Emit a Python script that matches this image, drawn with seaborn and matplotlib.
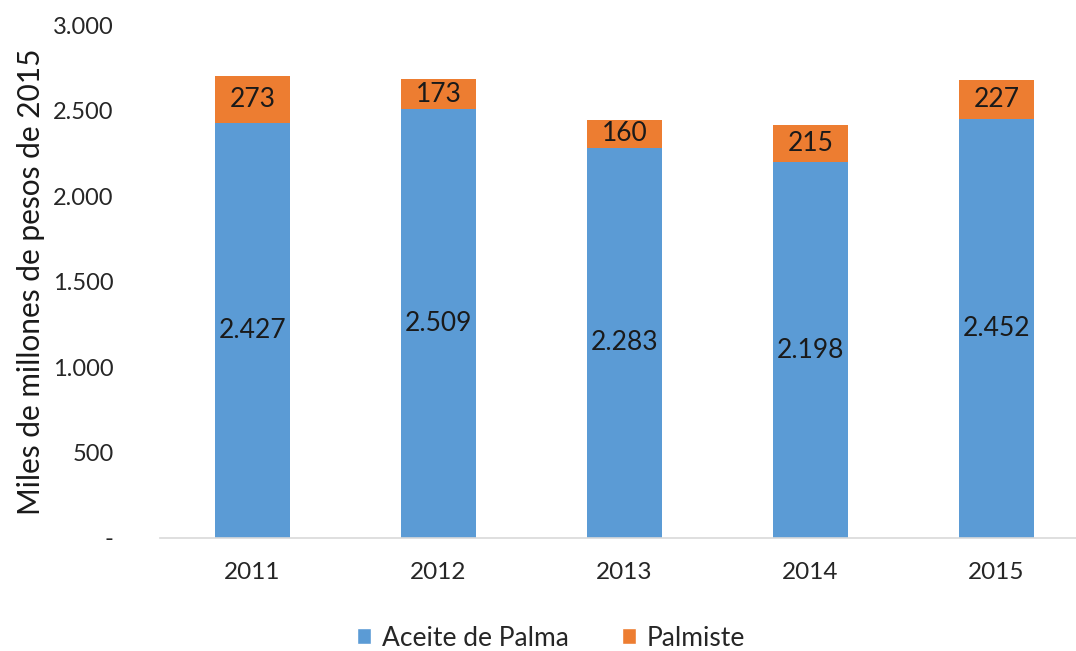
"""Valor de la producción: aceite de palma y palmiste, 2011-2015."""

import matplotlib
matplotlib.use("Agg")
import matplotlib.pyplot as plt
import pandas as pd
import seaborn as sns
from matplotlib.patches import Patch
from matplotlib.ticker import FuncFormatter

YEARS = ["2011", "2012", "2013", "2014", "2015"]
ACEITE = [2427, 2509, 2283, 2198, 2452]
PALMISTE = [273, 173, 160, 215, 227]

BLUE = "#5B9BD5"
ORANGE = "#ED7D31"
TEXT = "#1a1a1a"


def miles(v, _pos=None):
    if v == 0:
        return "-"
    return f"{int(v):,}".replace(",", ".")


sns.set_theme(style="white")
plt.rcParams["font.family"] = ["Lato", "DejaVu Sans"]

df = pd.DataFrame({"year": YEARS, "aceite": ACEITE, "palmiste": PALMISTE})
df["total"] = df["aceite"] + df["palmiste"]

fig = plt.figure(figsize=(10.76, 6.51), dpi=100)
ax = fig.add_axes([159.5 / 1076, 1 - 538 / 651, (1076 - 159.5) / 1076, (538 - 25) / 651])

# orange total first, blue aceite drawn over it -> stacked look
sns.barplot(data=df, x="year", y="total", color=ORANGE, width=0.4,
            saturation=1, ax=ax, edgecolor="none")
sns.barplot(data=df, x="year", y="aceite", color=BLUE, width=0.4,
            saturation=1, ax=ax, edgecolor="none")

for i, row in df.iterrows():
    ax.text(i, row["aceite"] / 2, miles(row["aceite"]), ha="center", va="center",
            fontsize=19, color=TEXT)
    ax.text(i, row["aceite"] + row["palmiste"] / 2, miles(row["palmiste"]),
            ha="center", va="center", fontsize=19, color=TEXT)

ax.set_ylim(0, 3000)
ax.set_xlim(-0.5, 4.5 - 13.5 / 186)
ax.set_yticks(range(0, 3001, 500))
ax.yaxis.set_major_formatter(FuncFormatter(miles))
ax.tick_params(axis="y", length=0, pad=33, labelsize=17, labelcolor="#262626")
ax.tick_params(axis="x", length=0, pad=17, labelsize=17.5, labelcolor="#262626")
ax.set_xlabel("")
ax.set_ylabel("Miles de millones de pesos de 2015", fontsize=21.5, color=TEXT, labelpad=6)

for side in ["top", "right", "left"]:
    ax.spines[side].set_visible(False)
ax.spines["bottom"].set_color("#D9D9D9")
ax.spines["bottom"].set_linewidth(1.2)

handles = [Patch(facecolor=BLUE, label="Aceite de Palma"),
           Patch(facecolor=ORANGE, label="Palmiste")]
fig.legend(handles=handles, loc="center", bbox_to_anchor=(0.512, 1 - 638 / 651),
           ncol=2, frameon=False, fontsize=19, handlelength=0.55, handleheight=0.55,
           handletextpad=0.4, columnspacing=2.0, labelcolor="#262626")

fig.savefig("out.png", dpi=100)
